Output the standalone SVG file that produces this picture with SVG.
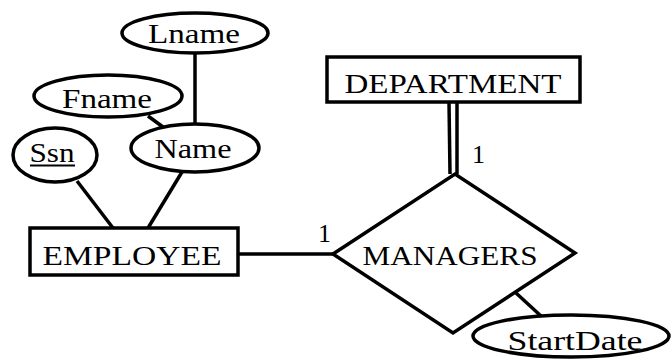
<svg xmlns="http://www.w3.org/2000/svg" width="672" height="364" viewBox="0 0 672 364">
<style>
.s{fill:#fff;stroke:#000;stroke-width:3.5}
.l{stroke:#000;stroke-width:3.5;fill:none}
.t{font-family:"Liberation Serif","Times New Roman",serif;font-size:28px;fill:#000;text-anchor:middle}
.n{font-family:"Liberation Serif","Times New Roman",serif;font-size:26px;fill:#000}
</style>
<rect width="672" height="364" fill="#fff"/>
<g id="connectors">
<line class="l" x1="195" y1="53" x2="195" y2="124"/>
<line class="l" x1="148" y1="116" x2="163" y2="127"/>
<line class="l" x1="77" y1="181" x2="113" y2="228"/>
<line class="l" x1="182" y1="172" x2="148" y2="228"/>
<line class="l" x1="238" y1="254" x2="333" y2="254"/>
<line class="l" x1="449" y1="102" x2="450" y2="174"/>
<line class="l" x1="457" y1="102" x2="457" y2="174"/>
<line class="l" x1="516" y1="293" x2="541" y2="316"/>
<text class="n" x="318" y="242">1</text>
<text class="n" x="472" y="163">1</text>
</g>
<g id="Lname">
<ellipse class="s" cx="195" cy="33" rx="73" ry="20"/>
<text class="t" x="194" y="43" textLength="92" lengthAdjust="spacingAndGlyphs">Lname</text>
</g>
<g id="Fname">
<ellipse class="s" cx="108" cy="96" rx="74" ry="21"/>
<text class="t" x="107" y="108" textLength="90" lengthAdjust="spacingAndGlyphs">Fname</text>
</g>
<g id="Name">
<ellipse class="s" cx="195" cy="148" rx="64" ry="24"/>
<text class="t" x="193" y="158" textLength="77" lengthAdjust="spacingAndGlyphs">Name</text>
</g>
<g id="Ssn">
<ellipse class="s" cx="55" cy="155" rx="42" ry="27"/>
<text class="t" x="52" y="162" textLength="45" lengthAdjust="spacingAndGlyphs">Ssn</text>
<line x1="30" y1="165.5" x2="75" y2="165.5" stroke="#000" stroke-width="2"/>
</g>
<g id="DEPARTMENT">
<rect class="s" x="327" y="57" width="253" height="45"/>
<text class="t" x="453" y="93" textLength="217" lengthAdjust="spacingAndGlyphs">DEPARTMENT</text>
</g>
<g id="EMPLOYEE">
<rect class="s" x="30" y="228" width="208" height="47"/>
<text class="t" x="132" y="265" textLength="179" lengthAdjust="spacingAndGlyphs">EMPLOYEE</text>
</g>
<g id="MANAGERS">
<polygon class="s" points="333,254 455,174 575,253 453,333"/>
<text class="t" x="450" y="265" textLength="175" lengthAdjust="spacingAndGlyphs">MANAGERS</text>
</g>
<g id="StartDate">
<ellipse class="s" cx="571" cy="336" rx="98" ry="21"/>
<text class="t" x="575" y="350" textLength="135" lengthAdjust="spacingAndGlyphs">StartDate</text>
</g>
</svg>
